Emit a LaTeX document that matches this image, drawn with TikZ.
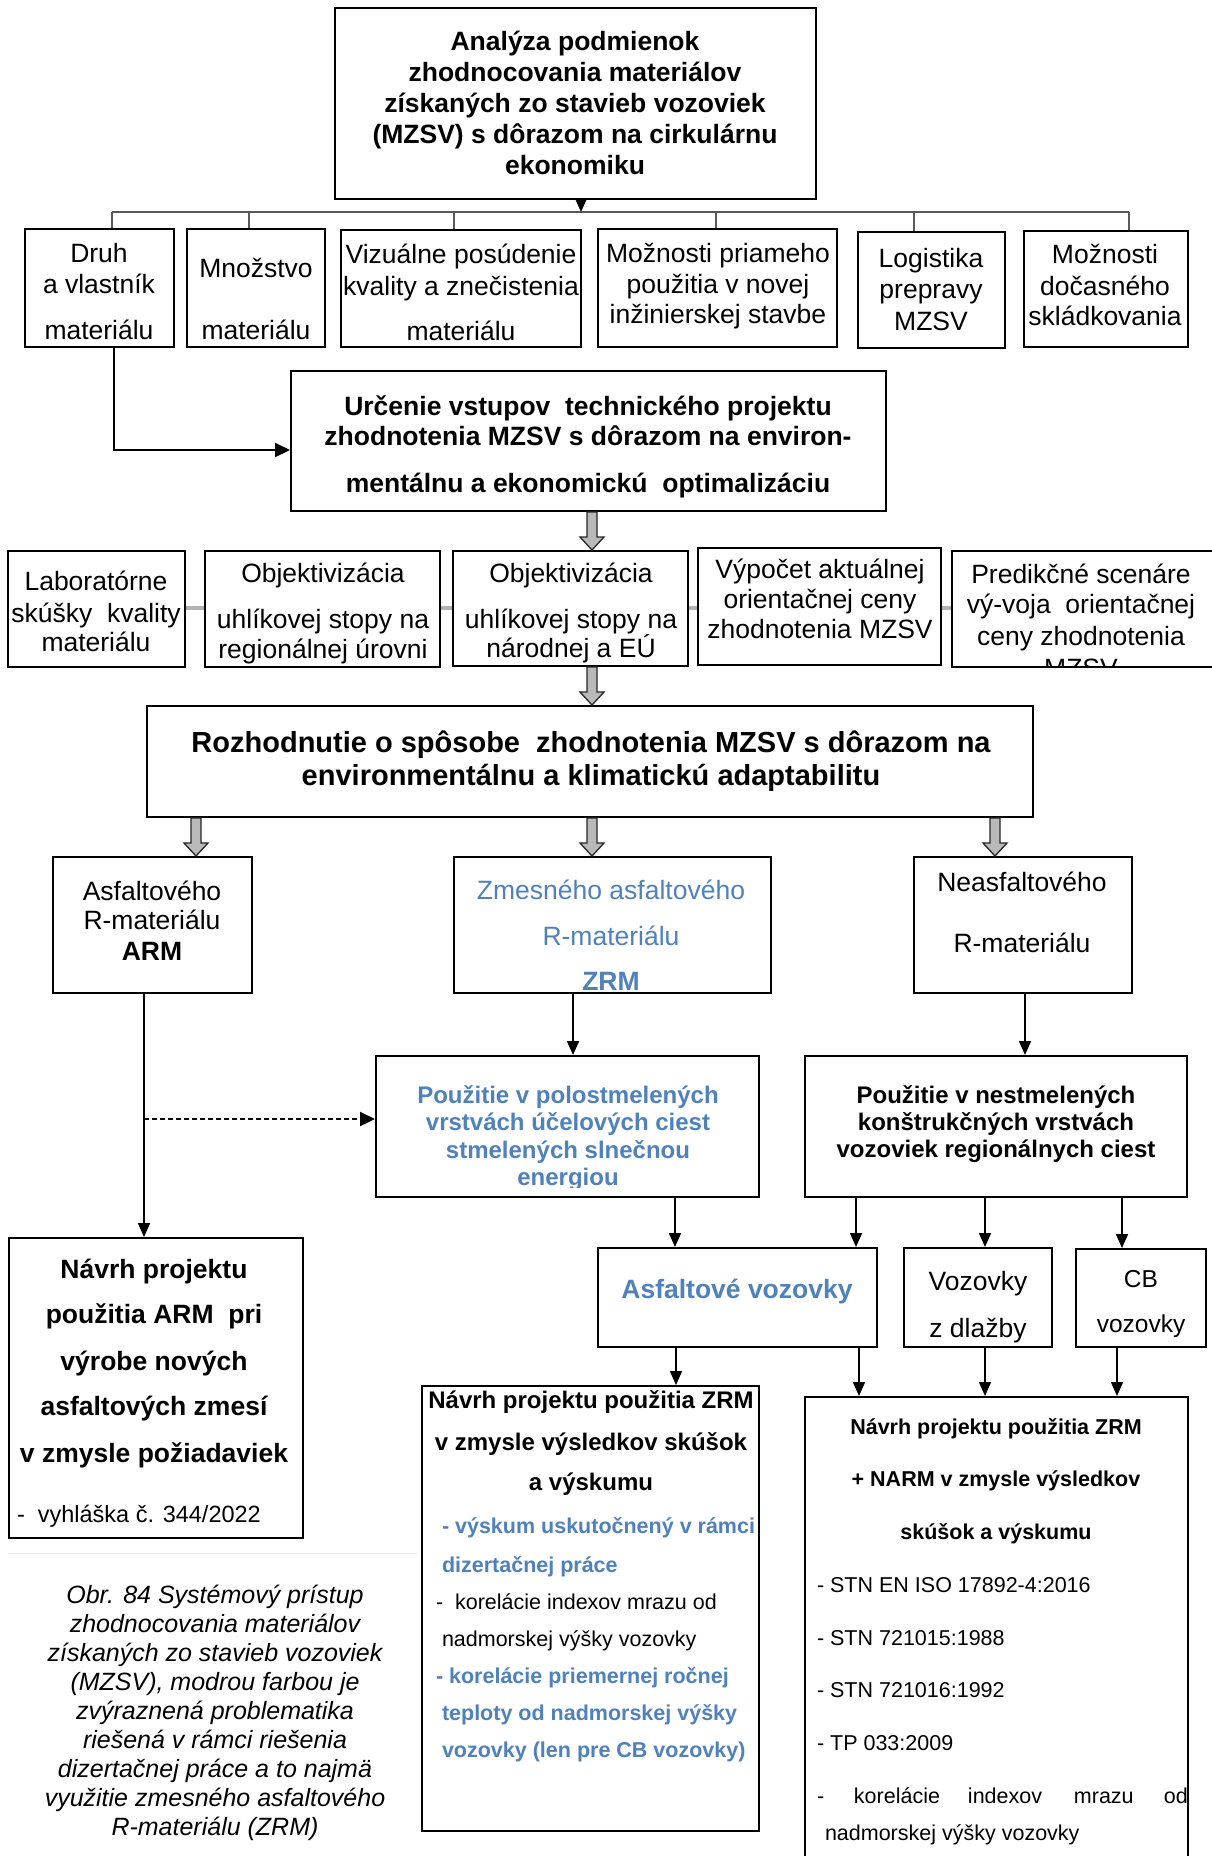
\documentclass[tikz,border=0pt]{standalone}
\usepackage{fontspec}
\setmainfont{Liberation Sans}
\usetikzlibrary{arrows.meta,calc}
\definecolor{zblue}{RGB}{79,129,189}
\tikzset{
  box/.style={draw=black, line width=2pt, inner sep=0pt, fill=white},
  ln/.style={anchor=base, inner sep=0pt, outer sep=0pt},
  lw/.style={anchor=base west, inner sep=0pt, outer sep=0pt},
  fa/.style={font=\fontsize{26.5}{31}\selectfont},
  fab/.style={font=\fontsize{26.5}{31}\selectfont\bfseries},
  fbig/.style={font=\fontsize{29}{33}\selectfont\bfseries},
  fm/.style={font=\fontsize{24}{28}\selectfont\bfseries},
  fcb/.style={font=\fontsize{24.5}{28}\selectfont},
  fs/.style={font=\fontsize{21.5}{25}\selectfont},
  fsb/.style={font=\fontsize{21.5}{25}\selectfont\bfseries},
  fv/.style={font=\fontsize{23.5}{27}\selectfont},
  fcap/.style={font=\fontsize{25}{29}\selectfont\itshape},
  blue/.style={text=zblue},
  con/.style={line width=1.6pt, -{Triangle[width=12pt,length=14pt]}},
  busline/.style={line width=1.6pt, draw=black!65},
  link/.style={line width=3.5pt, draw=gray!60},
  blk/.style={fill=gray!55, draw=black!85, line width=1.3pt, line join=miter},
}
\newcommand\bx[6][]{\node[box,#1,minimum width={(#5-#3)*1pt},minimum height={(#6-#4)*1pt}] (#2) at ({(#3+#5)/2},{(#4+#6)/2}) {};}
\newcommand\tl[5]{\node[ln,#4] (#1) at (#2,#3) {#5};}
\newcommand\tw[5]{\node[lw,#4] (#1) at (#2,#3) {#5};}
\newcommand\blockarrow[2]{\draw[blk] let \p1=(#1), \p2=(#2) in (\x1-5pt,\y1) -- (\x1-5pt,\y2+13pt) -- (\x1-12pt,\y2+13pt) -- (\x1,\y2) -- (\x1+12pt,\y2+13pt) -- (\x1+5pt,\y2+13pt) -- (\x1+5pt,\y1) -- cycle;}
\begin{document}
\begin{tikzpicture}[x=1pt,y=-1pt]
\useasboundingbox (0,0) rectangle (1211,1856);
\fill[white] (0,0) rectangle (1211,1856);

% ---------- boxes ----------
\bx{T}{335}{8}{816}{199}
\bx{R1a}{25}{229}{174}{347}
\bx{R1b}{187}{229}{325}{347}
\bx{R1c}{341}{230}{581}{347}
\bx{R1d}{598}{229}{837}{347}
\bx{R1e}{858}{232}{1005}{348}
\bx{R1f}{1024}{231}{1188}{347}
\bx{Urc}{291}{371}{886}{511}
\bx{R2a}{8}{551}{185}{667}
\bx{R2b}{205}{551}{440}{667}
\bx{R2c}{453}{551}{688}{666}
\bx{R2d}{698}{548}{941}{665}
\bx{R2e}{952}{551}{1225}{667}
\bx{Roz}{147}{706}{1033}{817}
\bx{ARM}{53}{857}{252}{993}
\bx{ZRM}{454}{857}{771}{993}
\bx{NEA}{914}{857}{1132}{993}
\bx{Polo}{376}{1056}{759}{1197}
\bx{Nest}{805}{1056}{1187}{1197}
\bx{AsfV}{598}{1248}{877}{1347}
\bx{VozD}{904}{1248}{1052}{1347}
\bx{CBv}{1076}{1249}{1206}{1347}
\bx{ArmN}{9}{1238}{303}{1538}
\bx{ZrmN}{422}{1386}{759}{1831}
\bx{Rgt}{805}{1397}{1188}{1880}

% ---------- helper coordinates ----------
\coordinate (bus) at (581,212);
\coordinate (k1) at (112,212);
\coordinate (k2) at (249,212);
\coordinate (k3) at (454,212);
\coordinate (k4) at (716,212);
\coordinate (k5) at (914,212);
\coordinate (k6) at (1129,212);
\coordinate (dj) at (114,450);
\coordinate (a1) at (592,0);
\coordinate (a2) at (196,0);
\coordinate (a3) at (995,0);
\coordinate (c1) at (144,1119);
\coordinate (c2) at (573,0);
\coordinate (c3) at (1025,0);
\coordinate (c4) at (675,0);
\coordinate (c5) at (856,0);
\coordinate (c6) at (985,0);
\coordinate (c7) at (1122,0);
\coordinate (c8) at (676,0);
\coordinate (c9) at (859,0);
\coordinate (c10) at (985,0);
\coordinate (c11) at (1117,0);

% ---------- connectors ----------
\draw[busline] (k1) -- (k6);
\foreach \k/\n in {k1/R1a,k2/R1b,k3/R1c,k4/R1d,k5/R1e,k6/R1f}
  \draw[busline] (\k) -- (\k |- \n.north);
\draw[con] (T.south -| bus) -- (bus);
\draw[line width=2.2pt, -{Triangle[width=14pt,length=15pt]}] (R1a.south -| dj) |- (Urc.west |- dj);

\blockarrow{Urc.south -| a1}{R2c.north -| a1}
\blockarrow{R2c.south -| a1}{Roz.north -| a1}
\blockarrow{Roz.south -| a2}{ARM.north -| a2}
\blockarrow{Roz.south -| a1}{ZRM.north -| a1}
\blockarrow{Roz.south -| a3}{NEA.north -| a3}

\draw[link] (R2a.east |- 0,608) -- (R2b.west |- 0,608);
\draw[link] (R2b.east |- 0,608) -- (R2c.west |- 0,608);
\draw[link] (R2c.east |- 0,608) -- (R2d.west |- 0,608);
\draw[link] (R2d.east |- 0,608) -- (R2e.west |- 0,608);

\draw[con] (ARM.south -| c1) -- (ArmN.north -| c1);
\draw[line width=2.2pt, dash pattern=on 5pt off 3pt, -{Triangle[width=14pt,length=15pt]}] (c1) -- (Polo.west |- c1);
\draw[con] (ZRM.south -| c2) -- (Polo.north -| c2);
\draw[con] (NEA.south -| c3) -- (Nest.north -| c3);
\draw[con] (Polo.south -| c4) -- (AsfV.north -| c4);
\draw[con] (Nest.south -| c5) -- (AsfV.north -| c5);
\draw[con] (Nest.south -| c6) -- (VozD.north -| c6);
\draw[con] (Nest.south -| c7) -- (CBv.north -| c7);
\draw[con] (AsfV.south -| c8) -- (ZrmN.north -| c8);
\draw[con] (AsfV.south -| c9) -- (Rgt.north -| c9);
\draw[con] (VozD.south -| c10) -- (Rgt.north -| c10);
\draw[con] (CBv.south -| c11) -- (Rgt.north -| c11);

\draw[black!7, line width=1pt] (8,1553) -- (417,1553);

% ---------- texts ----------
\tl{t1}{575}{50}{fab}{Analýza podmienok}
\tl{t2}{575}{81}{fab}{zhodnocovania materiálov}
\tl{t3}{575}{112}{fab}{získaných zo stavieb vozoviek}
\tl{t4}{575}{143}{fab}{(MZSV) s dôrazom na cirkulárnu}
\tl{t5}{575}{174}{fab}{ekonomiku}

\tl{r1a1}{99}{262}{fa}{Druh}
\tl{r1a2}{99}{293}{fa}{a vlastník}
\tl{r1a3}{99}{339}{fa}{materiálu}
\tl{r1b1}{256}{277}{fa}{Množstvo}
\tl{r1b2}{256}{339}{fa}{materiálu}
\tl{r1c1}{461}{263}{fa}{Vizuálne posúdenie}
\tl{r1c2}{461}{295}{fa}{kvality a znečistenia}
\tl{r1c3}{461}{340}{fa}{materiálu}
\tl{r1d1}{718}{262}{fa}{Možnosti priameho}
\tl{r1d2}{718}{293}{fa}{použitia v novej}
\tl{r1d3}{718}{323}{fa}{inžinierskej stavbe}
\tl{r1e1}{931}{267}{fa}{Logistika}
\tl{r1e2}{931}{298}{fa}{prepravy}
\tl{r1e3}{931}{330}{fa}{MZSV}
\tl{r1f1}{1105}{263}{fa}{Možnosti}
\tl{r1f2}{1105}{295}{fa}{dočasného}
\tl{r1f3}{1105}{325}{fa}{skládkovania}

\tl{u1}{588}{415}{fab}{Určenie vstupov\ \ technického projektu}
\tl{u2}{588}{445}{fab}{zhodnotenia MZSV s dôrazom na environ-}
\tl{u3}{588}{492}{fab}{mentálnu a ekonomickú\ \ optimalizáciu}

\tl{r2a1}{96}{590}{fa}{Laboratórne}
\tl{r2a2}{96}{622}{fa}{skúšky\ \ kvality}
\tl{r2a3}{96}{651}{fa}{materiálu}
\tl{r2b1}{323}{582}{fa}{Objektivizácia}
\tl{r2b2}{323}{628}{fa}{uhlíkovej stopy na}
\tl{r2b3}{323}{658}{fa}{regionálnej úrovni}
\tl{r2c1}{571}{582}{fa}{Objektivizácia}
\tl{r2c2}{571}{628}{fa}{uhlíkovej stopy na}
\tl{r2c3}{571}{657}{fa}{národnej a EÚ}
\tl{r2d1}{820}{578}{fa}{Výpočet aktuálnej}
\tl{r2d2}{820}{608}{fa}{orientačnej ceny}
\tl{r2d3}{820}{638}{fa}{zhodnotenia MZSV}
\tl{r2e1}{1081}{583}{fa}{Predikčné scenáre}
\tl{r2e2}{1081}{613}{fa}{vý-voja\ \ orientačnej}
\tl{r2e3}{1081}{645}{fa}{ceny zhodnotenia}
\begin{scope}
  \clip (952,551) rectangle (1211,665);
  \tl{r2e4}{1081}{677}{fa}{MZSV}
\end{scope}

\tl{z1}{591}{752}{fbig}{Rozhodnutie o spôsobe\ \ zhodnotenia MZSV s dôrazom na}
\tl{z2}{591}{785}{fbig}{environmentálnu a klimatickú adaptabilitu}

\tl{arm1}{152}{900}{fa}{Asfaltového}
\tl{arm2}{152}{929}{fa}{R-materiálu}
\tl{arm3}{152}{960}{fab}{ARM}
\tl{zrm1}{611}{899}{fa,blue}{Zmesného asfaltového}
\tl{zrm2}{611}{945}{fa,blue}{R-materiálu}
\begin{scope}
  \clip (454,857) rectangle (771,992);
  \tl{zrm3}{611}{990}{fab,blue}{ZRM}
\end{scope}
\tl{nea1}{1022}{891}{fa}{Neasfaltového}
\tl{nea2}{1022}{952}{fa}{R-materiálu}

\tl{p1}{568}{1103}{fm,blue}{Použitie v polostmelených}
\tl{p2}{568}{1130}{fm,blue}{vrstvách účelových ciest}
\tl{p3}{568}{1158}{fm,blue}{stmelených slnečnou}
\begin{scope}
  \clip (376,1056) rectangle (759,1187);
  \tl{p4}{568}{1185}{fm,blue}{energiou}
\end{scope}
\tl{n1}{996}{1103}{fm}{Použitie v nestmelených}
\tl{n2}{996}{1130}{fm}{konštrukčných vrstvách}
\tl{n3}{996}{1157}{fm}{vozoviek regionálnych ciest}

\tl{av1}{737}{1298}{fab,blue}{Asfaltové vozovky}
\tl{vd1}{978}{1290}{fa}{Vozovky}
\tl{vd2}{978}{1337}{fa}{z dlažby}
\tl{cb1}{1141}{1287}{fcb}{CB}
\tl{cb2}{1141}{1332}{fcb}{vozovky}

\tl{an1}{154}{1278}{fab}{Návrh projektu}
\tl{an2}{154}{1323}{fab}{použitia ARM\ \ pri}
\tl{an3}{154}{1370}{fab}{výrobe nových}
\tl{an4}{154}{1415}{fab}{asfaltových zmesí}
\tl{an5}{154}{1462}{fab}{v zmysle požiadaviek}
\tw{an6}{17}{1522}{fv}{-\ \ vyhláška č. 344/2022}

\tl{zn1}{591}{1408}{fm}{Návrh projektu použitia ZRM}
\tl{zn2}{591}{1450}{fm}{v zmysle výsledkov skúšok}
\tl{zn3}{591}{1490}{fm}{a výskumu}
\tw{zn4}{442}{1533}{fsb,blue}{- výskum uskutočnený v rámci}
\tw{zn5}{442}{1572}{fsb,blue}{dizertačnej práce}
\tw{zn6}{436}{1609}{fs}{-\ \ korelácie indexov mrazu od}
\tw{zn7}{442}{1646}{fs}{nadmorskej výšky vozovky}
\tw{zn8}{436}{1683}{fsb,blue}{- korelácie priemernej ročnej}
\tw{zn9}{442}{1720}{fsb,blue}{teploty od nadmorskej výšky}
\tw{zn10}{442}{1757}{fsb,blue}{vozovky (len pre CB vozovky)}

\tl{rg1}{996}{1434}{fsb}{Návrh projektu použitia ZRM}
\tl{rg2}{996}{1486}{fsb}{+ NARM v zmysle výsledkov}
\tl{rg3}{996}{1539}{fsb}{skúšok a výskumu}
\tw{rg4}{817}{1592}{fs}{- STN EN ISO 17892-4:2016}
\tw{rg5}{817}{1645}{fs}{- STN 721015:1988}
\tw{rg6}{817}{1697}{fs}{- STN 721016:1992}
\tw{rg7}{817}{1750}{fs}{- TP 033:2009}
\begin{scope}
  \clip (805,1760) rectangle (1187,1820);
  \tw{rg8}{817}{1803}{fs}{\makebox[37pt][l]{-}\makebox[114pt][l]{korelácie}\makebox[106pt][l]{indexov}\makebox[90pt][l]{mrazu}od}
\end{scope}
\tw{rg9}{825}{1840}{fs}{nadmorskej výšky vozovky}

\tl{cap1}{215}{1603}{fcap}{Obr. 84 Systémový prístup}
\tl{cap2}{215}{1632}{fcap}{zhodnocovania materiálov}
\tl{cap3}{215}{1661}{fcap}{získaných zo stavieb vozoviek}
\tl{cap4}{215}{1690}{fcap}{(MZSV), modrou farbou je}
\tl{cap5}{215}{1719}{fcap}{zvýraznená problematika}
\tl{cap6}{215}{1748}{fcap}{riešená v rámci riešenia}
\tl{cap7}{215}{1777}{fcap}{dizertačnej práce a to najmä}
\tl{cap8}{215}{1806}{fcap}{využitie zmesného asfaltového}
\tl{cap9}{215}{1835}{fcap}{R-materiálu (ZRM)}
\end{tikzpicture}
\end{document}
